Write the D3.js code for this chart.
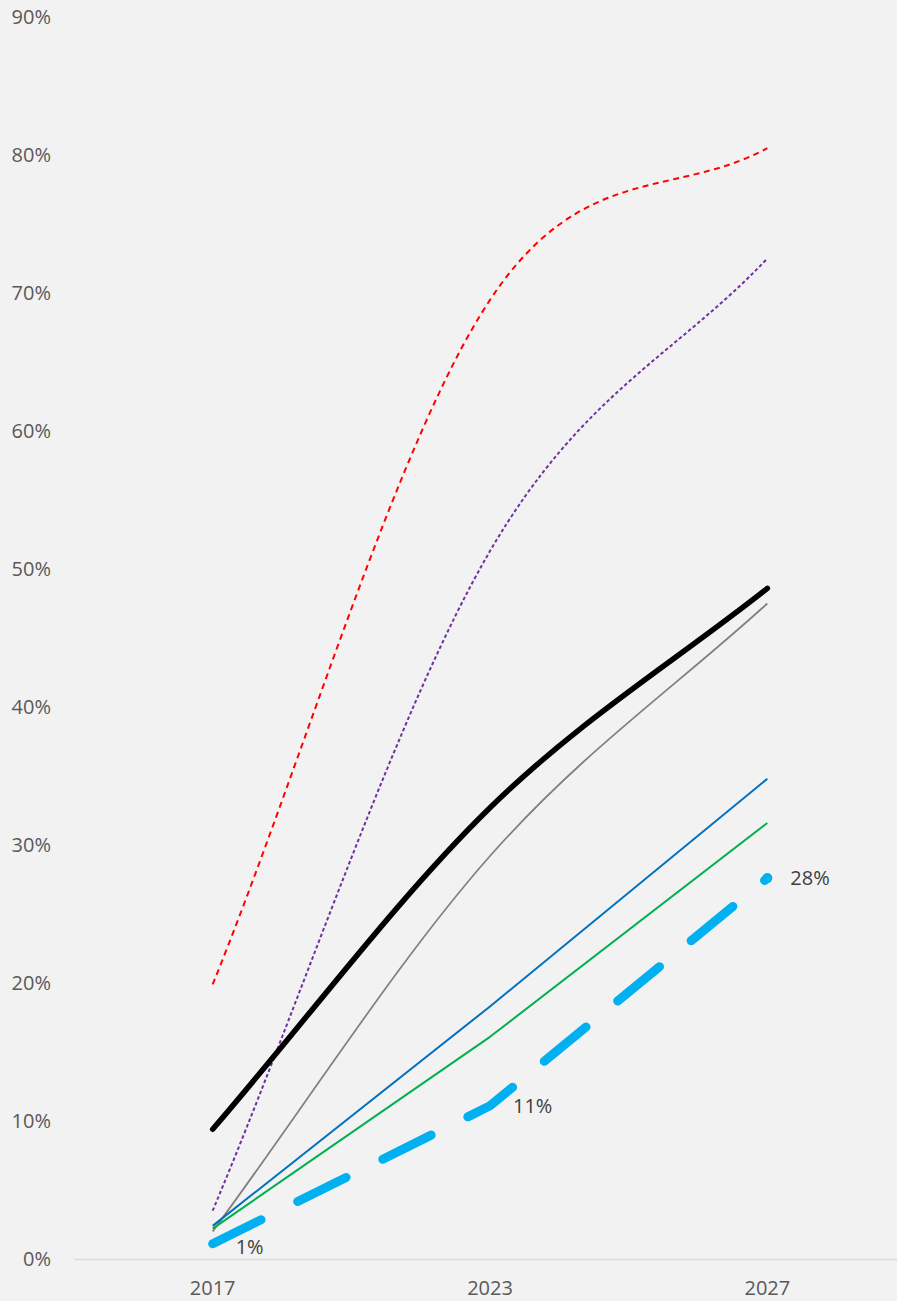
<!DOCTYPE html>
<html>
<head>
<meta charset="utf-8">
<script src="https://cdn.jsdelivr.net/npm/d3@7"></script>
<style>
  html, body { margin: 0; padding: 0; background: #f2f2f2; }
  svg { display: block; font-family: "Open Sans", sans-serif; }
</style>
</head>
<body>
<svg id="chart" width="897" height="1301"></svg>
<script>
// chart data
const years = ["2017", "2023", "2027"];
const yTicks = [0, 0.1, 0.2, 0.3, 0.4, 0.5, 0.6, 0.7, 0.8, 0.9];

const redSeries = [0.199, 0.695, 0.805];
const purpleSeries = [0.035, 0.513, 0.725];
const blackSeries = [0.094, 0.327, 0.486];
const graySeries = [0.020, 0.292, 0.475];
const blueSeries = [0.024, 0.183, 0.348];
const greenSeries = [0.022, 0.161, 0.316];
const cyanSeries = [0.011, 0.111, 0.276];

const series = [
  { values: redSeries, color: "#ff0000", width: 2, dash: "6,4.5", smooth: true },
  { values: purpleSeries, color: "#7030a0", width: 2, dash: "3.5,2.5", smooth: true },
  { values: graySeries, color: "#808080", width: 1.75, smooth: true },
  { values: blueSeries, color: "#0070c0", width: 2, smooth: false },
  { values: greenSeries, color: "#00b050", width: 2, smooth: false },
  { values: blackSeries, color: "#000000", width: 5.5, smooth: true, cap: "round" },
  { values: cyanSeries, color: "#00b0f0", width: 9, dash: "54,41", smooth: false, cap: "round" }
];

const svg = d3.select("#chart");

const x = d3.scaleBand().domain(years).range([74, 906]).padding(0);
const y = d3.scaleLinear().domain([0, 0.9]).range([1259, 17]);
const cx = (d, i) => x(years[i]) + x.bandwidth() / 2;

// spreadsheet-style smoothing: inner tangents (P[i+1]-P[i-1])/6,
// end tangents point a third of the way to the neighbour
function smoothPath(pts) {
  const p = d3.path();
  p.moveTo(pts[0][0], pts[0][1]);
  const n = pts.length;
  for (let i = 0; i < n - 1; i++) {
    const a = pts[i], b = pts[i + 1];
    let c1, c2;
    if (i === 0) c1 = [a[0] + (b[0] - a[0]) / 3, a[1] + (b[1] - a[1]) / 3];
    else {
      const pr = pts[i - 1];
      c1 = [a[0] + (b[0] - pr[0]) / 6, a[1] + (b[1] - pr[1]) / 6];
    }
    if (i === n - 2) c2 = [b[0] - (b[0] - a[0]) / 3, b[1] - (b[1] - a[1]) / 3];
    else {
      const nx = pts[i + 2];
      c2 = [b[0] - (nx[0] - a[0]) / 6, b[1] - (nx[1] - a[1]) / 6];
    }
    p.bezierCurveTo(c1[0], c1[1], c2[0], c2[1], b[0], b[1]);
  }
  return p.toString();
}

// bottom axis line
svg.append("line")
  .attr("x1", 74).attr("x2", 897)
  .attr("y1", y(0) + 0.5).attr("y2", y(0) + 0.5)
  .attr("stroke", "#d9d9d9")
  .attr("stroke-width", 1.5);

// y tick labels
svg.append("g")
  .selectAll("text")
  .data(yTicks)
  .enter()
  .append("text")
  .attr("x", 51)
  .attr("y", (d) => y(d))
  .attr("dy", "0.35em")
  .attr("text-anchor", "end")
  .attr("font-size", 20)
  .attr("fill", "#595959")
  .text(d3.format(".0%"));

// x tick labels
svg.append("g")
  .selectAll("text")
  .data(years)
  .enter()
  .append("text")
  .attr("x", (d) => x(d) + x.bandwidth() / 2)
  .attr("y", 1295)
  .attr("text-anchor", "middle")
  .attr("font-size", 20)
  .attr("fill", "#595959")
  .text((d) => d);

// lines
series.forEach((s) => {
  const pts = s.values.map((v, i) => [cx(v, i), y(v)]);
  const d = s.smooth ? smoothPath(pts) : d3.line()(pts);
  svg.append("path")
    .attr("d", d)
    .attr("fill", "none")
    .attr("stroke", s.color)
    .attr("stroke-width", s.width)
    .attr("stroke-dasharray", s.dash || null)
    .attr("stroke-linecap", s.cap || "butt")
    .attr("stroke-linejoin", "round");
});

// marker on the last cyan point
const last = cyanSeries.length - 1;
svg.append("circle")
  .attr("cx", cx(null, last))
  .attr("cy", y(cyanSeries[last]))
  .attr("r", 5)
  .attr("fill", "#00b0f0");

// data labels for cyan series
svg.append("g")
  .selectAll("text")
  .data(cyanSeries)
  .enter()
  .append("text")
  .attr("x", (d, i) => cx(d, i) + 23)
  .attr("y", (d, i) => y(d) + (i === 0 ? 3 : 0))
  .attr("dy", "0.35em")
  .attr("font-size", 20)
  .attr("fill", "#404040")
  .text(d3.format(".0%"));
</script>
</body>
</html>
